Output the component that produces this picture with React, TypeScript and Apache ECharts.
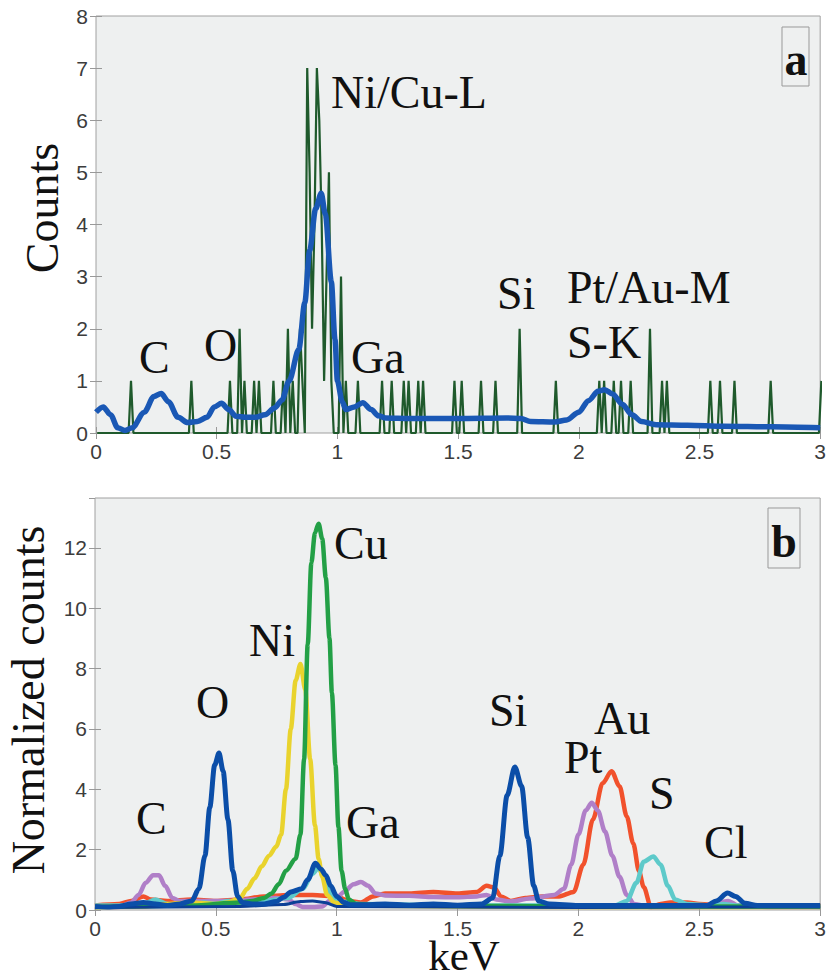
import React, { useEffect, useRef } from "react";
import * as echarts from "echarts";

// ---------- Panel a: raw counts (bins of 0.01 keV, first bin centred at 0.005 keV) ----------
const binStart = 0.005;
const binWidth = 0.01;
const rawCounts = [
  0, 0, 0, 0, 0, 0, 0, 0, 0, 0,
  0, 0, 0, 0, 1, 0, 0, 0, 0, 0,
  0, 0, 0, 0, 0, 0, 0, 0, 0, 0,
  0, 0, 0, 0, 0, 0, 0, 0, 0, 1,
  0, 0, 0, 0, 0, 0, 0, 0, 0, 0,
  0, 0, 0, 0, 0, 1, 0, 0, 0, 2,
  0, 1, 0, 0, 0, 1, 0, 1, 0, 0,
  0, 0, 0, 1, 0, 0, 0, 1, 0, 2,
  0, 1, 0, 0, 2, 1, 0, 7, 5, 2,
  4, 7, 6, 4, 1, 3, 5, 1, 0, 0,
  0, 3, 0, 1, 0, 0, 0, 0, 1, 0,
  0, 0, 0, 0, 0, 0, 0, 0, 1, 0,
  0, 0, 1, 0, 0, 0, 0, 1, 0, 1,
  0, 0, 0, 1, 0, 1, 0, 0, 0, 0,
  0, 0, 0, 0, 0, 0, 0, 0, 1, 0,
  0, 1, 0, 0, 0, 0, 0, 0, 0, 1,
  0, 0, 0, 0, 0, 1, 0, 0, 0, 0,
  0, 0, 0, 0, 0, 2, 0, 0, 0, 0,
  0, 0, 0, 0, 0, 0, 0, 0, 0, 0,
  1, 0, 0, 0, 0, 0, 0, 0, 0, 0,
  0, 0, 0, 0, 0, 0, 0, 0, 1, 0,
  1, 0, 0, 0, 1, 0, 0, 1, 0, 0,
  0, 1, 0, 0, 0, 0, 0, 0, 0, 2,
  0, 0, 0, 0, 1, 0, 1, 0, 0, 0,
  0, 0, 0, 0, 0, 0, 0, 0, 0, 0,
  0, 0, 0, 0, 1, 0, 0, 0, 1, 0,
  0, 0, 0, 0, 1, 0, 0, 0, 0, 0,
  0, 0, 0, 0, 0, 0, 0, 0, 0, 1,
  0, 0, 0, 0, 0, 0, 0, 0, 0, 0,
  0, 0, 0, 0, 0, 0, 0, 0, 0, 0,
  1,
];

// smoothed counts [keV, counts]
const smoothCounts: number[][] = [
  [0, 0.4], [0.03, 0.5], [0.06, 0.35], [0.09, 0.1], [0.12, 0.05], [0.15, 0.1],
  [0.2, 0.4], [0.24, 0.7], [0.27, 0.76], [0.3, 0.6], [0.34, 0.3], [0.38, 0.2],
  [0.42, 0.22], [0.46, 0.3], [0.49, 0.5], [0.52, 0.57], [0.55, 0.45], [0.58, 0.32],
  [0.62, 0.3], [0.66, 0.3], [0.7, 0.35], [0.74, 0.48], [0.77, 0.63], [0.8, 1.0],
  [0.84, 1.6], [0.865, 2.5], [0.885, 3.5], [0.91, 4.3], [0.933, 4.6], [0.95, 4.2],
  [0.975, 2.9], [0.99, 1.8], [1.0, 1.0], [1.02, 0.6], [1.035, 0.45], [1.07, 0.5],
  [1.105, 0.58], [1.14, 0.45], [1.17, 0.33], [1.2, 0.29], [1.3, 0.28], [1.5, 0.28],
  [1.7, 0.29], [1.76, 0.28], [1.8, 0.22], [1.9, 0.21], [1.95, 0.25], [2.0, 0.4],
  [2.04, 0.62], [2.08, 0.8], [2.107, 0.83], [2.14, 0.75], [2.18, 0.55], [2.22, 0.35],
  [2.26, 0.22], [2.32, 0.16], [2.45, 0.15], [2.6, 0.13], [2.8, 0.12], [3, 0.1],
];

// ---------- Panel b: normalized component spectra [keV, normalized counts] ----------
const spectrumAu: number[][] = [
  [0, 0.15], [0.1, 0.2], [0.15, 0.3], [0.2, 0.45], [0.23, 0.35], [0.3, 0.3], [0.4, 0.35],
  [0.5, 0.3], [0.6, 0.35], [0.7, 0.45], [0.8, 0.5], [0.9, 0.5], [1.0, 0.45], [1.05, 0.3],
  [1.1, 0.25], [1.15, 0.45], [1.2, 0.55], [1.3, 0.55], [1.4, 0.6], [1.5, 0.55], [1.58, 0.6],
  [1.62, 0.8], [1.65, 0.75], [1.68, 0.45], [1.72, 0.3], [1.78, 0.4], [1.85, 0.45], [1.92, 0.45],
  [1.98, 0.6], [2.02, 1.5], [2.06, 3.0], [2.1, 4.2], [2.137, 4.6], [2.17, 4.1], [2.2, 3.1],
  [2.227, 2.2], [2.25, 1.3], [2.27, 0.76], [2.3, 0.1], [2.34, 0.2], [2.38, 0.25], [2.45, 0.25],
  [2.5, 0.2], [2.6, 0.15], [2.8, 0.15], [3, 0.15],
];
const spectrumPtCGa: number[][] = [
  [0, 0.1], [0.1, 0.1], [0.15, 0.25], [0.18, 0.5], [0.21, 0.9], [0.24, 1.15], [0.265, 1.15],
  [0.29, 0.8], [0.32, 0.4], [0.35, 0.3], [0.45, 0.3], [0.55, 0.3], [0.65, 0.35], [0.75, 0.4],
  [0.8, 0.35], [0.83, 0.2], [0.86, 0.1], [0.9, 0.1], [0.94, 0.12], [0.97, 0.3], [1.0, 0.4],
  [1.03, 0.6], [1.07, 0.85], [1.1, 0.93], [1.13, 0.8], [1.16, 0.55], [1.2, 0.48], [1.3, 0.47],
  [1.4, 0.43], [1.5, 0.42], [1.58, 0.45], [1.62, 0.5], [1.66, 0.35], [1.72, 0.28], [1.8, 0.38],
  [1.9, 0.5], [1.94, 0.7], [1.97, 1.5], [2.0, 2.5], [2.03, 3.3], [2.055, 3.55], [2.08, 3.3],
  [2.11, 2.6], [2.14, 1.8], [2.17, 1.1], [2.2, 0.5], [2.23, 0.2], [2.3, 0.1], [2.5, 0.1],
  [2.58, 0.25], [2.62, 0.3], [2.66, 0.15], [2.8, 0.1], [3, 0.1],
];
const spectrumS: number[][] = [
  [0, 0.15], [0.1, 0.15], [0.2, 0.2], [0.25, 0.35], [0.3, 0.2], [0.4, 0.15], [0.45, 0.25],
  [0.5, 0.2], [0.55, 0.3], [0.6, 0.25], [0.7, 0.3], [0.8, 0.4], [0.86, 0.7], [0.9, 1.2],
  [0.925, 1.4], [0.945, 1.1], [0.97, 0.6], [1.0, 0.3], [1.1, 0.2], [1.5, 0.15], [1.9, 0.15],
  [2.0, 0.15], [2.15, 0.15], [2.2, 0.3], [2.24, 0.9], [2.27, 1.6], [2.31, 1.77], [2.34, 1.5],
  [2.37, 0.8], [2.4, 0.35], [2.45, 0.2], [2.55, 0.15], [2.6, 0.2], [2.65, 0.15], [3, 0.1],
];
const spectrumNi: number[][] = [
  [0, 0.1], [0.2, 0.12], [0.3, 0.2], [0.4, 0.25], [0.5, 0.2], [0.55, 0.25], [0.6, 0.4],
  [0.63, 0.7], [0.66, 1.05], [0.69, 1.45], [0.72, 1.8], [0.75, 2.1], [0.77, 2.5], [0.79, 4.0],
  [0.81, 6.0], [0.83, 7.6], [0.85, 8.15], [0.87, 7.3], [0.89, 5.0], [0.91, 2.8], [0.925, 1.7],
  [0.94, 1.1], [0.96, 0.5], [0.99, 0.25], [1.05, 0.15], [1.5, 0.12], [2.0, 0.1], [3, 0.1],
];
const spectrumCu: number[][] = [
  [0, 0.1], [0.4, 0.15], [0.6, 0.25], [0.65, 0.3], [0.7, 0.4], [0.73, 0.55], [0.76, 0.85],
  [0.79, 1.3], [0.83, 1.7], [0.85, 2.5], [0.865, 5.0], [0.88, 8.8], [0.895, 11.5], [0.91, 12.5],
  [0.925, 12.8], [0.94, 12.3], [0.955, 11.0], [0.97, 9.0], [0.98, 7.2], [0.995, 4.8],
  [1.007, 2.75], [1.02, 1.3], [1.035, 0.7], [1.05, 0.35], [1.08, 0.2], [1.2, 0.15], [2, 0.12],
  [3, 0.12],
];
const spectrumLowBlue: number[][] = [
  [0, 0.08], [0.3, 0.1], [0.6, 0.12], [0.78, 0.18], [0.85, 0.28], [0.9, 0.3], [0.95, 0.25],
  [1.0, 0.12], [1.5, 0.1], [2.0, 0.08], [2.5, 0.1], [3, 0.1],
];
const spectrumOSiCl: number[][] = [
  [0, 0.12], [0.05, 0.1], [0.1, 0.12], [0.15, 0.2], [0.2, 0.25], [0.25, 0.2], [0.3, 0.15],
  [0.35, 0.2], [0.4, 0.3], [0.43, 0.7], [0.455, 1.8], [0.475, 3.4], [0.495, 4.8], [0.513, 5.2],
  [0.53, 4.6], [0.55, 3.0], [0.57, 1.3], [0.59, 0.45], [0.61, 0.25], [0.65, 0.2], [0.7, 0.2],
  [0.75, 0.28], [0.78, 0.42], [0.81, 0.6], [0.855, 0.7], [0.88, 1.0], [0.912, 1.55],
  [0.935, 1.35], [0.955, 1.15], [0.975, 0.8], [1.0, 0.45], [1.03, 0.25], [1.06, 0.17],
  [1.1, 0.17], [1.2, 0.2], [1.3, 0.16], [1.4, 0.2], [1.5, 0.16], [1.6, 0.2], [1.645, 0.4],
  [1.675, 1.8], [1.705, 3.8], [1.737, 4.74], [1.765, 4.1], [1.79, 2.4], [1.815, 0.8],
  [1.835, 0.3], [1.88, 0.2], [2.0, 0.15], [2.2, 0.15], [2.4, 0.15], [2.53, 0.15], [2.57, 0.3],
  [2.617, 0.56], [2.65, 0.45], [2.69, 0.22], [2.74, 0.15], [2.85, 0.15], [3, 0.15],
];

const keVTickInterval = 0.5;
const countsMax = 8;
const normMax = 13.65;

const rawPairs = rawCounts.map((c, i) => [binStart + i * binWidth, c]);

const serif = '"Liberation Serif", "Times New Roman", serif';
const sans = '"Liberation Sans", Arial, sans-serif';

const annotations = [
  { text: "Ni/Cu-L", x: 331, y: 92 },
  { text: "C", x: 139, y: 357 },
  { text: "O", x: 204, y: 345 },
  { text: "Ga", x: 351, y: 357 },
  { text: "Si", x: 497, y: 293 },
  { text: "Pt/Au-M", x: 567, y: 287 },
  { text: "S-K", x: 567, y: 342 },
  { text: "Cu", x: 334, y: 543 },
  { text: "Ni", x: 249, y: 640 },
  { text: "O", x: 196, y: 702 },
  { text: "C", x: 136, y: 818 },
  { text: "Ga", x: 346, y: 822 },
  { text: "Si", x: 489, y: 710 },
  { text: "Au", x: 594, y: 718 },
  { text: "Pt", x: 564, y: 757 },
  { text: "S", x: 649, y: 793 },
  { text: "Cl", x: 704, y: 842 },
];

function buildOption() {
  const tick = { inside: true, length: 6, lineStyle: { color: "#999", width: 1 } };
  const label = { color: "#3c3c3c", fontFamily: sans, fontSize: 21 };
  const xAx = (gridIndex: number, pos: "bottom" | "top") => ({
    type: "value",
    gridIndex,
    position: pos,
    min: 0,
    max: 3,
    interval: keVTickInterval,
    axisLine: { show: false },
    axisTick: tick,
    axisLabel: pos === "bottom" ? { ...label, margin: 8 } : { show: false },
    splitLine: { show: false },
  });
  const yAx = (gridIndex: number, pos: "left" | "right", max: number, interval: number) => ({
    type: "value",
    gridIndex,
    position: pos,
    min: 0,
    max,
    interval,
    axisLine: { show: false },
    axisTick: tick,
    axisLabel: pos === "left" ? { ...label, margin: 8, showMaxLabel: max % interval === 0 } : { show: false },
    splitLine: { show: false },
  });
  const bLine = (data: number[][], color: string, width = 4.5) => ({
    type: "line",
    xAxisIndex: 2,
    yAxisIndex: 2,
    data,
    showSymbol: false,
    smooth: 0.3,
    smoothMonotone: "x",
    clip: true,
    lineStyle: { color, width },
  });

  const graphic: any[] = annotations.map((a) => ({
    type: "text",
    x: a.x,
    y: a.y,
    style: { text: a.text, font: `46px ${serif}`, fill: "#111", textAlign: "left", textVerticalAlign: "middle" },
  }));
  graphic.push(
    { type: "rect", shape: { x: 782, y: 27, width: 27, height: 59 }, style: { fill: "none", stroke: "#999", lineWidth: 1 } },
    { type: "text", x: 796, y: 59, style: { text: "a", font: `bold 46px ${serif}`, fill: "#111", textAlign: "center", textVerticalAlign: "middle" } },
    { type: "rect", shape: { x: 768, y: 508, width: 32, height: 60 }, style: { fill: "none", stroke: "#999", lineWidth: 1 } },
    { type: "text", x: 784, y: 541, style: { text: "b", font: `bold 46px ${serif}`, fill: "#111", textAlign: "center", textVerticalAlign: "middle" } },
    { type: "text", x: 42, y: 208, rotation: Math.PI / 2, style: { text: "Counts", font: `46px ${serif}`, fill: "#111", textAlign: "center", textVerticalAlign: "middle" } },
    { type: "text", x: 28, y: 700, rotation: Math.PI / 2, style: { text: "Normalized counts", font: `46px ${serif}`, fill: "#111", textAlign: "center", textVerticalAlign: "middle" } },
    { type: "text", x: 464, y: 955, style: { text: "keV", font: `43px ${serif}`, fill: "#111", textAlign: "center", textVerticalAlign: "middle" } }
  );

  return {
    animation: false,
    backgroundColor: "#ffffff",
    grid: [
      { left: 96, right: 4, top: 16, height: 417, show: true, backgroundColor: "#eef0f0", borderColor: "#a0a0a0", borderWidth: 1 },
      { left: 95, right: 4, top: 498, height: 412, show: true, backgroundColor: "#eef0f0", borderColor: "#a0a0a0", borderWidth: 1 },
    ],
    xAxis: [xAx(0, "bottom"), xAx(0, "top"), xAx(1, "bottom"), xAx(1, "top")],
    yAxis: [yAx(0, "left", countsMax, 1), yAx(0, "right", countsMax, 1), yAx(1, "left", normMax, 2), yAx(1, "right", normMax, 2)],
    series: [
      {
        type: "line",
        xAxisIndex: 0,
        yAxisIndex: 0,
        data: rawPairs,
        showSymbol: false,
        clip: true,
        lineStyle: { color: "#1f5a2c", width: 2.2 },
      },
      {
        type: "line",
        xAxisIndex: 0,
        yAxisIndex: 0,
        data: smoothCounts,
        showSymbol: false,
        smooth: 0.3,
        smoothMonotone: "x",
        clip: true,
        lineStyle: { color: "#1a58b5", width: 5.5 },
      },
      bLine(spectrumAu, "#f1512c"),
      bLine(spectrumPtCGa, "#b07fc8"),
      bLine(spectrumS, "#5ecaca"),
      bLine(spectrumNi, "#e9d32d"),
      bLine(spectrumCu, "#23a046"),
      bLine(spectrumLowBlue, "#0b3f96", 3),
      bLine(spectrumOSiCl, "#0b4ea8", 5),
    ],
    graphic,
  };
}

export default function App() {
  const ref = useRef<HTMLDivElement>(null);
  useEffect(() => {
    if (!ref.current) return;
    const chart = echarts.init(ref.current, undefined, { renderer: "svg" });
    chart.setOption(buildOption() as any);
    return () => chart.dispose();
  }, []);
  return (
    <div
      ref={ref}
      style={{ position: "absolute", left: 0, top: 0, width: 829, height: 978, background: "#fff" }}
    />
  );
}
